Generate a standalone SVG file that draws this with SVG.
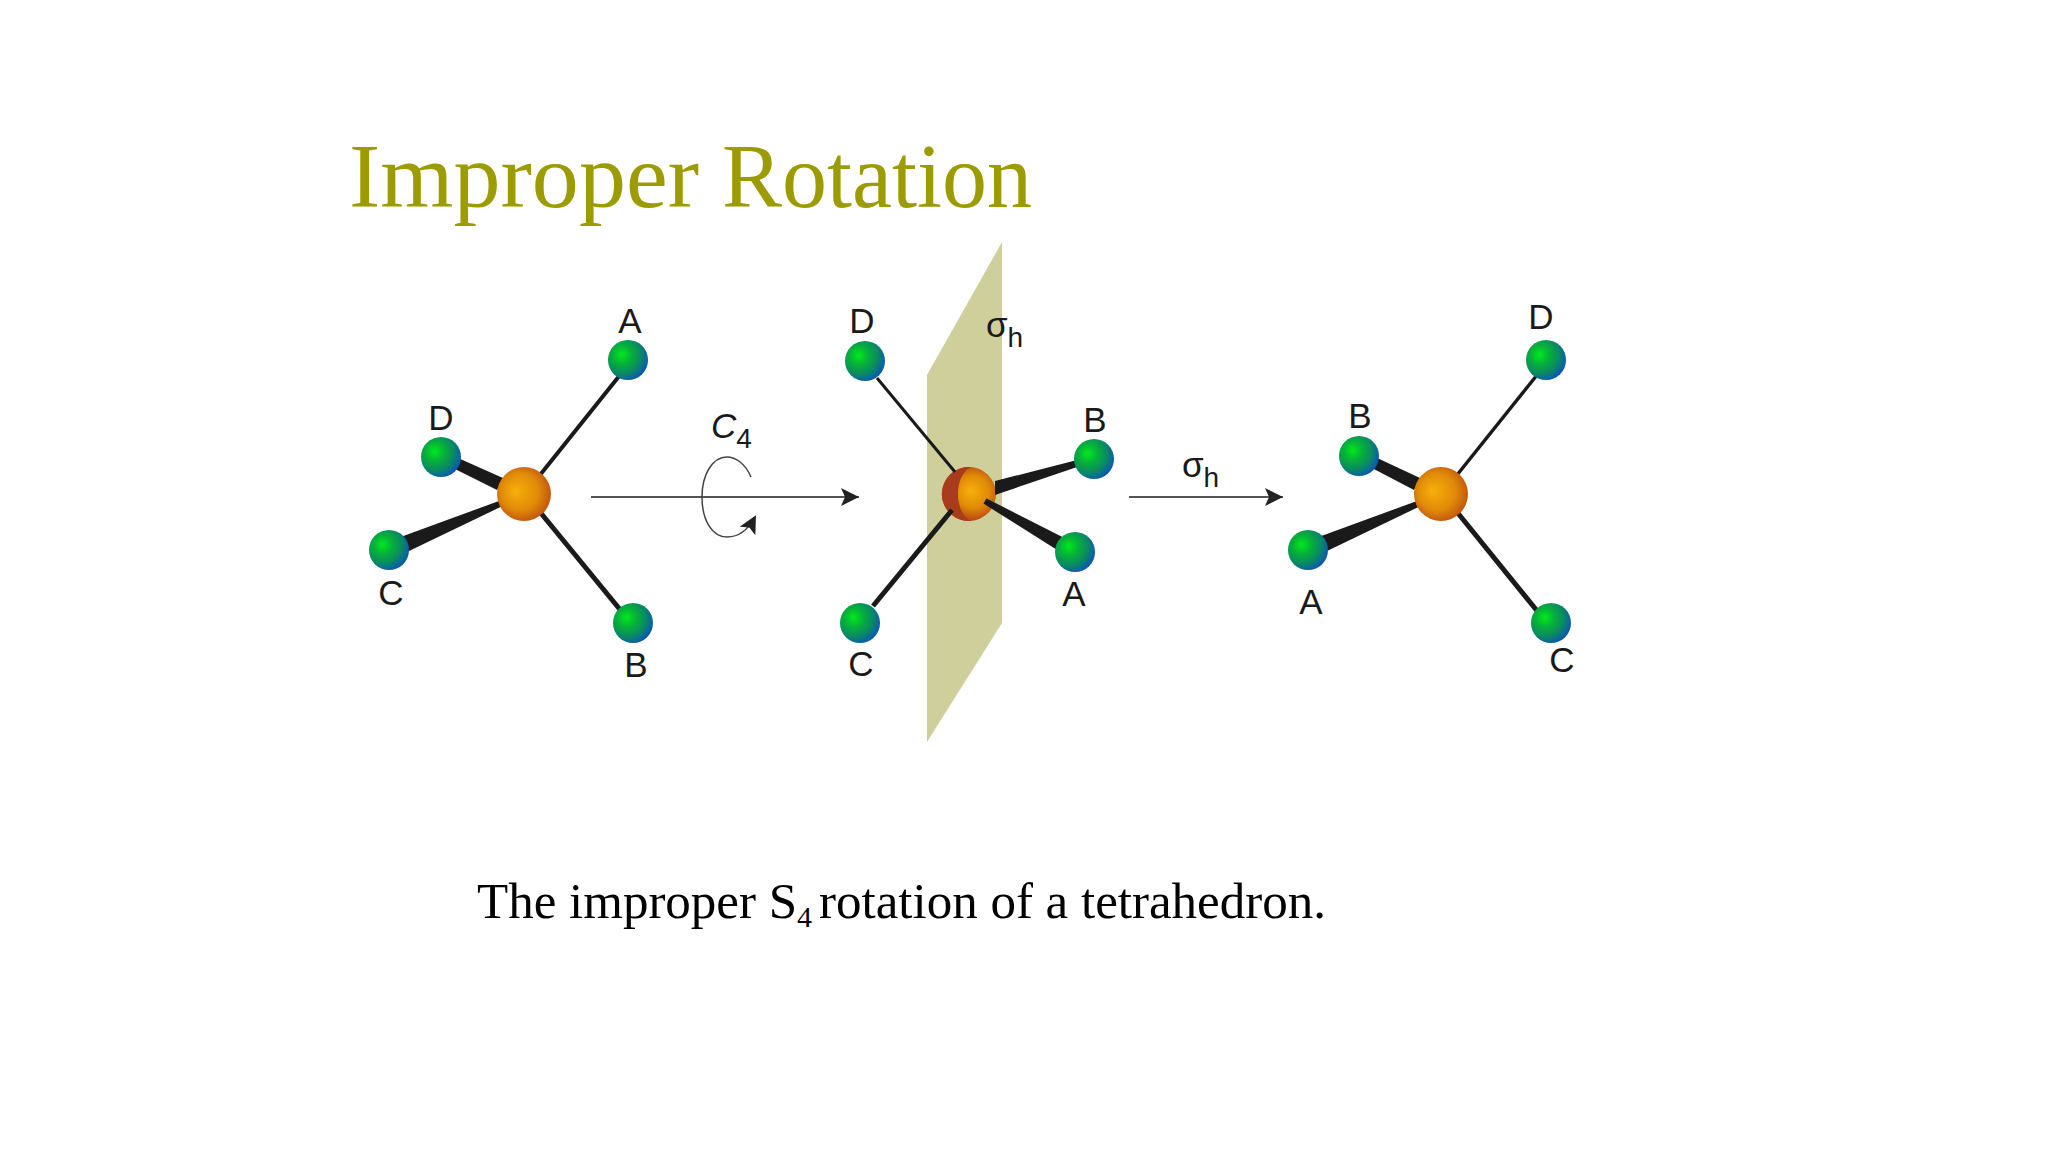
<svg xmlns="http://www.w3.org/2000/svg" width="2048" height="1152" viewBox="0 0 2048 1152">
<style>
.lbl{font-family:"Liberation Sans",Arial,sans-serif;font-size:35px;fill:#1a1a1a;text-anchor:middle}
.sub{font-size:28px}
.bond{stroke:#1a1a1a;fill:none;stroke-linecap:butt}
.wedge{fill:#1a1a1a;stroke:none}
.arrow{stroke:#555;stroke-width:1.800;fill:none;marker-end:url(#head)}
.leaf{fill:url(#green)}
.core{fill:url(#orange)}
</style>
<defs>
<radialGradient id="green" cx="0.36" cy="0.38" r="0.75" fx="0.34" fy="0.36">
<stop offset="0" stop-color="#00ea1c"/><stop offset="0.32" stop-color="#06b03a"/><stop offset="0.62" stop-color="#0a8a62"/><stop offset="0.85" stop-color="#0a60a8"/><stop offset="1" stop-color="#0a40d0"/>
</radialGradient>
<radialGradient id="orange" cx="0.47" cy="0.47" r="0.58" fx="0.34" fy="0.44">
<stop offset="0" stop-color="#f8b00a"/><stop offset="0.6" stop-color="#e08a08"/><stop offset="1" stop-color="#bd4e10"/>
</radialGradient>
<radialGradient id="orange2" cx="0.6" cy="0.47" r="0.5" fx="0.52" fy="0.44">
<stop offset="0" stop-color="#f8b00a"/><stop offset="0.6" stop-color="#e08a08"/><stop offset="1" stop-color="#bd4e10"/>
</radialGradient>
<marker id="head" markerUnits="userSpaceOnUse" markerWidth="20" markerHeight="20" refX="18" refY="9" orient="auto">
<path d="M0 0L18 9L0 18L4 9Z" fill="#222"/>
</marker>
<marker id="curlhead" markerUnits="userSpaceOnUse" markerWidth="20" markerHeight="20" refX="16" refY="9" orient="auto">
<path d="M0 0L18 9L0 18L4 9Z" fill="#222"/>
</marker>
</defs>
<rect width="2048" height="1152" fill="#fff"/>
<text id="title" y="207" font-family="'Liberation Serif',serif" font-size="90" fill="#9c9c00"><tspan x="349" textLength="350" lengthAdjust="spacingAndGlyphs">Improper</tspan> <tspan x="722" textLength="310" lengthAdjust="spacingAndGlyphs">Rotation</tspan></text>
<polygon id="mirror-plane" points="1002,242 1002,623 927,742 927,375" fill="#cfcf9c"/>
<g id="m2-core">
<circle cx="969" cy="494" r="27" fill="url(#orange2)"/>
<path d="M972 467.200A27 27 0 1 0 972 520.800A16 27 0 0 1 972 467.200Z" fill="#a83c1c"/>
</g>
<g id="connectors">
<line class="bond" x1="540" y1="475" x2="620" y2="375" stroke-width="4"/>
<line class="bond" x1="540" y1="512" x2="622" y2="612" stroke-width="5"/>
<polygon class="wedge" points="458,458 453,468 497,490 503,478"/>
<polygon class="wedge" points="402,536.600 408,551.400 503,505.800 501,500.200"/>
<line class="bond" x1="877" y1="378" x2="955" y2="472" stroke-width="3"/>
<line class="bond" x1="873" y1="606" x2="952" y2="510" stroke-width="5"/>
<polygon class="wedge" points="995,481 995,495 1083,465 1081,459"/>
<polygon class="wedge" points="986.500,498.400 983.500,503.600 1055.600,549 1062.400,537"/>
<line class="bond" x1="1457" y1="475" x2="1537" y2="375" stroke-width="3.500"/>
<line class="bond" x1="1457" y1="512" x2="1538" y2="612" stroke-width="5"/>
<polygon class="wedge" points="1375,457 1370,467 1414,490 1420,478"/>
<polygon class="wedge" points="1320,536.600 1326,551.400 1421,505.800 1419,500.200"/>
<line class="arrow" x1="591" y1="497" x2="859" y2="497"/>
<line class="arrow" x1="1129" y1="497" x2="1283" y2="497"/>
<path d="M751 477C745 463 735 457 727 457C712 457 702 475 702 497C702 520 712 537 727 537C739 537 748 530 755 517" fill="none" stroke="#444" stroke-width="1.500" marker-end="url(#curlhead)"/>
</g>
<g id="molecule-1">
<circle class="core" cx="524" cy="494" r="27"/>
<g id="m1-A"><circle class="leaf" cx="628" cy="360" r="20"/><text class="lbl" x="630" y="333">A</text></g>
<g id="m1-D"><circle class="leaf" cx="441" cy="457" r="20"/><text class="lbl" x="441" y="430">D</text></g>
<g id="m1-C"><circle class="leaf" cx="389" cy="550" r="20"/><text class="lbl" x="391" y="605">C</text></g>
<g id="m1-B"><circle class="leaf" cx="633" cy="623" r="20"/><text class="lbl" x="636" y="677">B</text></g>
</g>
<g id="c4-label"><text class="lbl" x="711" y="438" style="text-anchor:start;font-style:italic">C<tspan class="sub" dy="10" style="font-style:normal">4</tspan></text></g>
<g id="molecule-2">
<g id="m2-D"><circle class="leaf" cx="865" cy="361" r="20"/><text class="lbl" x="862" y="333">D</text></g>
<g id="m2-B"><circle class="leaf" cx="1094" cy="459" r="20"/><text class="lbl" x="1095" y="432">B</text></g>
<g id="m2-A"><circle class="leaf" cx="1075" cy="552" r="20"/><text class="lbl" x="1074" y="606">A</text></g>
<g id="m2-C"><circle class="leaf" cx="860" cy="623" r="20"/><text class="lbl" x="861" y="676">C</text></g>
</g>
<g id="sigma-plane-label"><text class="lbl" x="986" y="337" style="text-anchor:start">σ<tspan class="sub" dy="10">h</tspan></text></g>
<g id="sigma-arrow-label"><text class="lbl" x="1182" y="477" style="text-anchor:start">σ<tspan class="sub" dy="10">h</tspan></text></g>
<g id="molecule-3">
<circle class="core" cx="1441" cy="494" r="27"/>
<g id="m3-D"><circle class="leaf" cx="1546" cy="360" r="20"/><text class="lbl" x="1541" y="329">D</text></g>
<g id="m3-B"><circle class="leaf" cx="1359" cy="456" r="20"/><text class="lbl" x="1360" y="428">B</text></g>
<g id="m3-A"><circle class="leaf" cx="1308" cy="550" r="20"/><text class="lbl" x="1311" y="614">A</text></g>
<g id="m3-C"><circle class="leaf" cx="1551" cy="623" r="20"/><text class="lbl" x="1562" y="672">C</text></g>
</g>
<text id="caption" x="477" y="918" font-family="'Liberation Serif',serif" font-size="51" fill="#000">The improper S<tspan font-size="30" dy="9">4</tspan><tspan x="819" dy="-9">rotation of a tetrahedron.</tspan></text>
</svg>
